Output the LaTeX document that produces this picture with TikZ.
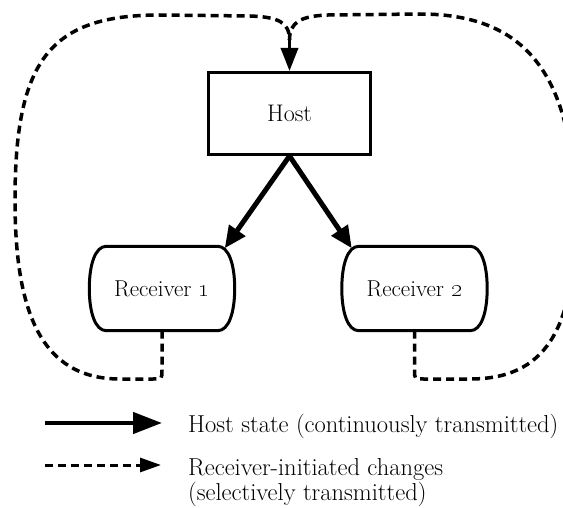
\documentclass[tikz,border=0pt]{standalone}
\usetikzlibrary{arrows.meta}
\begin{document}
\begin{tikzpicture}[x=1pt,y=-1pt,
  hostbox/.style={draw, line width=3pt, minimum width=162pt, minimum height=82pt, inner sep=0pt, font=\fontsize{24}{28}\selectfont},
  recv/.style={minimum width=145pt, minimum height=84pt, inner sep=0pt, font=\fontsize{23}{28}\selectfont},
  recvline/.style={line width=3pt, line join=round},
  solidarr/.style={line width=5pt, -{Triangle[length=22pt,width=19pt]}},
  dashline/.style={line width=3.5pt, dash pattern=on 8pt off 5pt},
  dasharr/.style={dashline, -{Triangle[length=23pt,width=17pt]}},
  legtext/.style={anchor=base west, inner sep=0pt, font=\fontsize{24.5}{28}\selectfont}]
\useasboundingbox (0,0) rectangle (563,508);

\node[hostbox] (host) at (289.5,113.5) {Host};
\node[recv] (r1) at (162,288.5) {Receiver \oldstylenums{1}};
\node[recv] (r2) at (414.5,288.5) {Receiver \oldstylenums{2}};

% receiver outlines
\foreach \r in {r1,r2}{
  \draw[recvline] ([xshift=17pt]\r.north west) -- ([xshift=-17pt]\r.north east)
    .. controls ([xshift=-6pt]\r.north east) and ([yshift=-18pt]\r.north east) .. (\r.east)
    .. controls ([yshift=18pt]\r.south east) and ([xshift=-6pt]\r.south east) .. ([xshift=-17pt]\r.south east)
    -- ([xshift=17pt]\r.south west)
    .. controls ([xshift=6pt]\r.south west) and ([yshift=18pt]\r.south west) .. (\r.west)
    .. controls ([yshift=-18pt]\r.north west) and ([xshift=6pt]\r.north west) .. cycle;
}

% continuous host state
\draw[solidarr] (host.south) -- ([xshift=-10pt,yshift=-2pt]r1.north east);
\draw[solidarr] (host.south) -- ([xshift=10pt,yshift=-2pt]r2.north west);

% receiver-initiated changes
\coordinate (m) at (289.5,40);
\draw[dashline] (r1.south) -- (162,370) .. controls (162,379) .. (153,379) -- (120,379)
  .. controls (40,379) and (15,310) .. (15,200)
  .. controls (15,60) and (50,15) .. (160,15) -- (250,16)
  .. controls (278,17) and (289.5,22) .. (m);
\draw[dashline] (r2.south) -- (414.5,370) .. controls (414.5,379) .. (423.5,379) -- (470,379)
  .. controls (545,379) and (575,330) .. (575,220)
  .. controls (575,80) and (530,14) .. (420,14) -- (328,15)
  .. controls (301,16) and (289.5,22) .. (m);
\draw[dasharr] (m) -- (host.north);

% legend
\coordinate (ls1) at (45,423);
\coordinate (le1) at (162,423);
\draw[line width=4.5pt, -{Triangle[length=29pt,width=21pt]}] (ls1) -- (le1);
\coordinate (ls2) at (45,465);
\coordinate (le2) at (161,465);
\draw[dashline, line width=3pt, -{Triangle[length=21pt,width=14pt]}] (ls2) -- (le2);
\node[legtext] (t1) at (188,432.5) {Host state (continuously transmitted)};
\node[legtext] (t2) at (188,475.5) {Receiver-initiated changes};
\node[legtext] (t3) at (188,500.5) {(selectively transmitted)};
\end{tikzpicture}
\end{document}
